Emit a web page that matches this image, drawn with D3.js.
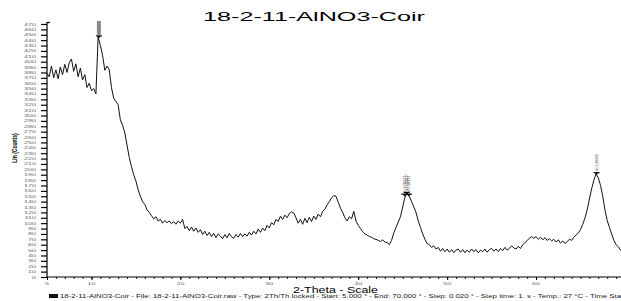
<!DOCTYPE html>
<html>
<head>
<meta charset="utf-8">
<script src="https://cdn.jsdelivr.net/npm/d3@7/dist/d3.min.js"></script>
<style>
html,body{margin:0;padding:0;background:#fff;}
svg{display:block;}
text{font-family:"Liberation Sans",Arial,sans-serif;}
</style>
</head>
<body>
<svg id="chart" width="621" height="301"></svg>
<script>
// ---- data ----
const titleText = "18-2-11-AlNO3-Coir";
const xTitle = "2-Theta - Scale";
const yTitle = "Lin (Counts)";
const footerText = "18-2-11-AlNO3-Coir - File: 18-2-11-AlNO3-Coir.raw - Type: 2Th/Th locked - Start: 5.000 \u00b0 - End: 70.000 \u00b0 - Step: 0.020 \u00b0 - Step time: 1. s - Temp.: 27 \u00b0C - Time Sta";
const xTickLabels = [5, 10, 20, 30, 40, 50, 60];
const yTickLabels = d3.range(0, 471, 10);

// [2-theta, counts]
const scan = [
[5.00,378],[5.25,372],[5.50,392],[5.75,370],[6.00,385],[6.25,368],[6.50,390],[6.75,376],
[7.00,395],[7.25,380],[7.50,398],[7.75,405],[8.00,382],[8.25,396],[8.50,372],[8.75,388],
[9.00,366],[9.25,376],[9.50,352],[9.75,360],[10.00,346],[10.25,350],[10.50,340],[10.75,446],
[11.00,430],[11.25,412],[11.50,384],[11.75,392],[12.00,385],[12.25,352],[12.50,332],[12.75,326],
[13.00,320],[13.25,292],[13.50,282],[13.75,268],[14.00,245],[14.25,222],[14.50,205],[14.75,190],
[15.00,178],[15.25,162],[15.50,150],[15.75,140],[16.00,135],[16.25,125],[16.50,120],[16.75,114],
[17.00,108],[17.25,112],[17.50,104],[17.75,107],[18.00,100],[18.25,105],[18.50,101],[18.75,104],
[19.00,99],[19.25,103],[19.50,98],[19.75,104],[20.00,100],[20.25,107],[20.50,90],[20.75,94],
[21.00,86],[21.25,93],[21.50,85],[21.75,91],[22.00,83],[22.25,88],[22.50,79],[22.75,85],
[23.00,77],[23.25,83],[23.50,75],[23.75,81],[24.00,73],[24.25,80],[24.50,76],[24.75,71],
[25.00,79],[25.25,73],[25.50,81],[25.75,75],[26.00,72],[26.25,79],[26.50,74],[26.75,81],
[27.00,75],[27.25,80],[27.50,76],[27.75,83],[28.00,78],[28.25,85],[28.50,80],[28.75,89],
[29.00,83],[29.25,91],[29.50,86],[29.75,96],[30.00,91],[30.25,101],[30.50,97],[30.75,107],
[31.00,103],[31.25,113],[31.50,107],[31.75,115],[32.00,110],[32.25,118],[32.50,121],[32.75,119],
[33.00,110],[33.25,100],[33.50,107],[33.75,98],[34.00,109],[34.25,101],[34.50,111],[34.75,103],
[35.00,113],[35.25,107],[35.50,117],[35.75,112],[36.00,122],[36.25,126],[36.50,134],[36.75,140],
[37.00,147],[37.25,151],[37.50,150],[37.75,139],[38.00,128],[38.25,120],[38.50,110],[38.75,104],
[39.00,112],[39.25,108],[39.50,122],[39.75,104],[40.00,96],[40.25,90],[40.50,84],[40.75,80],
[41.00,78],[41.25,75],[41.50,74],[41.75,71],[42.00,70],[42.25,68],[42.50,66],[42.75,69],
[43.00,65],[43.25,64],[43.50,60],[43.75,68],[44.00,82],[44.25,92],[44.50,102],[44.75,112],
[45.00,130],[45.25,148],[45.50,155],[45.75,150],[46.00,140],[46.25,130],[46.50,120],[46.75,104],
[47.00,92],[47.25,80],[47.50,70],[47.75,62],[48.00,60],[48.25,55],[48.50,58],[48.75,52],
[49.00,55],[49.25,48],[49.50,53],[49.75,47],[50.00,52],[50.25,46],[50.50,51],[50.75,45],
[51.00,50],[51.25,52],[51.50,46],[51.75,51],[52.00,45],[52.25,50],[52.50,46],[52.75,52],
[53.00,47],[53.25,51],[53.50,45],[53.75,50],[54.00,47],[54.25,52],[54.50,46],[54.75,51],
[55.00,53],[55.25,48],[55.50,52],[55.75,47],[56.00,53],[56.25,49],[56.50,55],[56.75,50],
[57.00,53],[57.25,58],[57.50,54],[57.75,52],[58.00,57],[58.25,53],[58.50,60],[58.75,64],
[59.00,68],[59.25,72],[59.50,75],[59.75,72],[60.00,75],[60.25,70],[60.50,74],[60.75,69],
[61.00,73],[61.25,68],[61.50,71],[61.75,67],[62.00,70],[62.25,65],[62.50,69],[62.75,63],
[63.00,67],[63.25,62],[63.50,66],[63.75,70],[64.00,68],[64.25,74],[64.50,78],[64.75,82],
[65.00,88],[65.25,98],[65.50,110],[65.75,125],[66.00,145],[66.25,164],[66.50,180],[66.75,192],
[67.00,184],[67.25,170],[67.50,150],[67.75,124],[68.00,105],[68.25,92],[68.50,80],[68.75,68],
[69.00,60],[69.25,56],[69.50,50],[69.75,53],[70.00,48]
];

// peak markers: angle, counts at marker, label
const peakAngles = [10.84, 45.2, 45.45, 45.7, 66.8];
const peakCounts = [446, 152, 155, 152, 192];
const peakLabels = ["d=8.15476", "d=2.00427", "d=1.99417", "d=1.98322", "d=1.39932"];
const peakBoxed = [true, false, false, false, false];

// ---- layout ----
const svg = d3.select("#chart");
const x = d3.scaleLinear().domain([5, 70]).range([47, 625]);
const y = d3.scaleLinear().domain([0, 470]).range([277, 24]);

// title
svg.append("text").attr("x", 203).attr("y", 21)
  .attr("font-size", 13).attr("fill", "#000")
  .attr("textLength", 222).attr("lengthAdjust", "spacingAndGlyphs")
  .text(titleText);

// y axis
const yAxis = d3.axisLeft(y).tickValues(yTickLabels).tickSize(6).tickFormat("");
const gy = svg.append("g").attr("transform", "translate(47,0)").call(yAxis);
gy.select(".domain").remove();
gy.selectAll(".tick line").attr("stroke", "#000").attr("stroke-width", 1.2);
svg.append("line").attr("x1", 47).attr("x2", 47).attr("y1", 22).attr("y2", 277)
  .attr("stroke", "#000").attr("stroke-width", 1.2);
svg.append("line").attr("x1", 47).attr("x2", 50).attr("y1", 22.5).attr("y2", 22.5)
  .attr("stroke", "#000").attr("stroke-width", 1.2);

// y tick labels (stretched small text)
svg.append("g").selectAll("g").data(yTickLabels).join("g")
  .attr("transform", d => `translate(36,${y(d) + 1.5}) scale(1.7,1)`)
  .append("text").attr("text-anchor", "end").attr("font-size", 4.2).attr("fill", "#666")
  .text(d => d);

// x axis
const xAxisMinor = d3.axisBottom(x).tickValues(d3.range(5, 71, 1)).tickSize(2).tickFormat("");
const gx = svg.append("g").attr("transform", "translate(0,277)").call(xAxisMinor);
gx.select(".domain").remove();
gx.selectAll(".tick line").attr("stroke", "#000").attr("stroke-width", 0.9);
const xAxisMajor = d3.axisBottom(x).tickValues(xTickLabels).tickSize(3).tickFormat("");
const gx2 = svg.append("g").attr("transform", "translate(0,277)").call(xAxisMajor);
gx2.select(".domain").remove();
gx2.selectAll(".tick line").attr("stroke", "#000").attr("stroke-width", 1);
svg.append("line").attr("x1", 47).attr("x2", 621).attr("y1", 277).attr("y2", 277)
  .attr("stroke", "#000").attr("stroke-width", 1.2);

svg.append("g").selectAll("g").data(xTickLabels).join("g")
  .attr("transform", d => `translate(${x(d)},284.5) scale(1.7,1)`)
  .append("text").attr("text-anchor", "middle").attr("font-size", 4.2).attr("fill", "#666")
  .text(d => d);

// axis titles
svg.append("text").attr("x", 293).attr("y", 292.5)
  .attr("font-size", 8.5).attr("fill", "#000")
  .attr("textLength", 85).attr("lengthAdjust", "spacingAndGlyphs")
  .text(xTitle);

svg.append("g").attr("transform", "translate(17,148) rotate(-90) scale(1,1.5)")
  .append("text").attr("text-anchor", "middle").attr("font-size", 5).attr("font-weight", "bold")
  .attr("fill", "#000").text(yTitle);

// footer
svg.append("rect").attr("x", 49).attr("y", 294).attr("width", 9).attr("height", 4).attr("fill", "#111");
svg.append("text").attr("x", 60).attr("y", 298)
  .attr("font-size", 4.5).attr("fill", "#222")
  .attr("textLength", 561).attr("lengthAdjust", "spacingAndGlyphs")
  .text(footerText);

// scan line
const line = d3.line().x(d => x(d[0])).y(d => y(d[1]));
svg.append("path").datum(scan).attr("d", line)
  .attr("fill", "none").attr("stroke", "#111").attr("stroke-width", 1)
  .attr("stroke-linejoin", "round");

// peak markers
const peaks = peakAngles.map((a, i) => ({a, c: peakCounts[i], t: peakLabels[i], box: peakBoxed[i]}));
const pg = svg.append("g").selectAll("g").data(peaks).join("g")
  .attr("transform", d => `translate(${x(d.a)},${y(d.c) - 1})`);
pg.append("line").attr("x1", -3).attr("x2", 3).attr("y1", 0).attr("y2", 0)
  .attr("stroke", "#000").attr("stroke-width", 1.2);
pg.append("path").attr("d", "M-1.5,0 L1.5,0 L0,2.5 Z").attr("fill", "#000");
pg.filter(d => d.box).append("rect").attr("x", -2).attr("y", -15).attr("width", 4).attr("height", 14)
  .attr("fill", "#999");
pg.append("g").attr("transform", "translate(1.2,-1.5) rotate(-90)")
  .append("text").attr("font-size", 3.4).attr("fill", d => d.box ? "#555" : "#333")
  .attr("textLength", d => d.box ? 13 : 17).attr("lengthAdjust", "spacingAndGlyphs")
  .text(d => d.t);
</script>
</body>
</html>
